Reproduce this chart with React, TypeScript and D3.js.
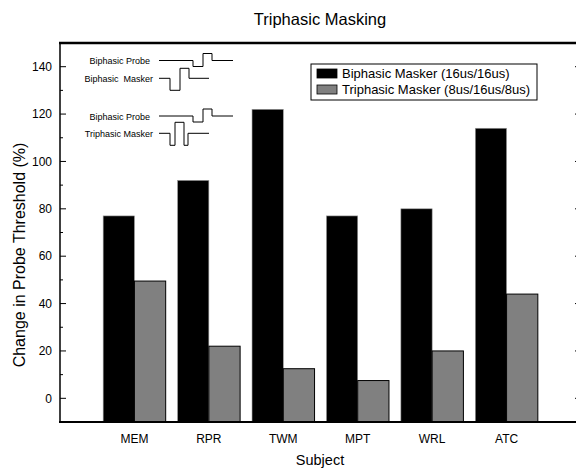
import * as d3 from 'd3';

const subjects = ['MEM', 'RPR', 'TWM', 'MPT', 'WRL', 'ATC'];
const biphasic = [77, 92, 122, 77, 80, 114];
const triphasic = [49.5, 22, 12.5, 7.5, 20, 44];
const seriesNames = ['Biphasic Masker (16us/16us)', 'Triphasic Masker (8us/16us/8us)'];
const seriesColors = ['#000000', '#808080'];
const yTicks = [0, 20, 40, 60, 80, 100, 120, 140];
const yMinor = [-10, 10, 30, 50, 70, 90, 110, 130, 150];

const FONT = '"Liberation Sans", Arial, sans-serif';

// pulse schematics (relative to inset origin)
const probePath = 'M0,0 H34 V6 H44 V-7 H53 V0 H74';
const biMaskerPath = 'M0,0 H11 V12 H21 V-10 H30 V0 H50';
const triMaskerPath = 'M0,0 H11 V12 H16 V-11 H25 V12 H29 V0 H50';

export default function App() {
  const width = 576;
  const height = 470;
  const left = 60;
  const right = 581;
  const top = 43;
  const bottom = 422;

  const x = d3.scaleLinear().domain([0, 7]).range([left, right]);
  const y = d3.scaleLinear().domain([-10, 150]).range([bottom, top]);
  const bw = x(0.42) - x(0);

  const series = [biphasic, triphasic];

  return (
    <svg
      width={width}
      height={height}
      style={{ position: 'absolute', left: 0, top: 0, background: '#fff' }}
      fontFamily={FONT}
    >
      <text x={320} y={25} textAnchor="middle" fontSize={16.5}>
        Triphasic Masking
      </text>

      {/* bars */}
      {subjects.map((s, i) =>
        series.map((vals, k) => {
          const x0 = x(i + 1) - bw + k * bw;
          return (
            <rect
              key={s + k}
              x={x0}
              y={y(vals[i])}
              width={bw}
              height={bottom - y(vals[i])}
              fill={seriesColors[k]}
              stroke={k === 0 ? '#999' : '#000'}
              strokeWidth={k === 0 ? 0.6 : 1}
            />
          );
        })
      )}

      {/* frame */}
      <line x1={left} x2={left} y1={top} y2={bottom} stroke="#000" strokeWidth={1.5} />
      <line x1={right} x2={right} y1={top} y2={bottom} stroke="#000" strokeWidth={1.5} />
      <line x1={left - 1} x2={right} y1={top} y2={top} stroke="#000" strokeWidth={2.5} />
      <line x1={left - 1} x2={right} y1={bottom} y2={bottom} stroke="#000" strokeWidth={2} />

      {/* y ticks */}
      {yTicks.map((t) => (
        <g key={t}>
          <line x1={left} x2={left + 6} y1={y(t)} y2={y(t)} stroke="#000" />
          <line x1={right - 6} x2={right} y1={y(t)} y2={y(t)} stroke="#000" />
          <text x={52} y={y(t)} dy="0.35em" textAnchor="end" fontSize={12}>
            {t}
          </text>
        </g>
      ))}
      {yMinor.map((t) => (
        <g key={'m' + t}>
          <line x1={left} x2={left + 3} y1={y(t)} y2={y(t)} stroke="#000" />
          <line x1={right - 3} x2={right} y1={y(t)} y2={y(t)} stroke="#000" />
        </g>
      ))}

      {/* x labels */}
      {subjects.map((s, i) => (
        <text key={s} x={x(i + 1)} y={443} textAnchor="middle" fontSize={12}>
          {s}
        </text>
      ))}
      <text x={320} y={465} textAnchor="middle" fontSize={14.5}>
        Subject
      </text>
      <text
        transform="translate(25,255) rotate(-90)"
        textAnchor="middle"
        fontSize={16}
      >
        Change in Probe Threshold (%)
      </text>

      {/* legend */}
      <rect x={311} y={64} width={226} height={36} fill="#fff" stroke="#000" strokeWidth={1} />
      {seriesNames.map((n, k) => (
        <g key={n} transform={`translate(317, ${73.5 + k * 16})`}>
          <rect x={0} y={-4.5} width={20} height={9} fill={seriesColors[k]} stroke="#000" strokeWidth={0.8} />
          <text x={25} y={0} dy="0.35em" fontSize={13}>
            {n}
          </text>
        </g>
      ))}

      {/* pulse inset */}
      <g fontSize={9} fill="none" stroke="#000" strokeWidth={1}>
        <text x={150} y={64} textAnchor="end" fill="#000" stroke="none">Biphasic Probe</text>
        <path d={probePath} transform="translate(159,60.5)" />
        <text x={153} y={82} textAnchor="end" fill="#000" stroke="none" style={{ whiteSpace: 'pre' }}>
          {'Biphasic  Masker'}
        </text>
        <path d={biMaskerPath} transform="translate(159,78.3)" />
        <text x={150} y={120} textAnchor="end" fill="#000" stroke="none">Biphasic Probe</text>
        <path d={probePath} transform="translate(159,116)" />
        <text x={153} y={136.5} textAnchor="end" fill="#000" stroke="none">Triphasic Masker</text>
        <path d={triMaskerPath} transform="translate(159,133.3)" />
      </g>
    </svg>
  );
}
